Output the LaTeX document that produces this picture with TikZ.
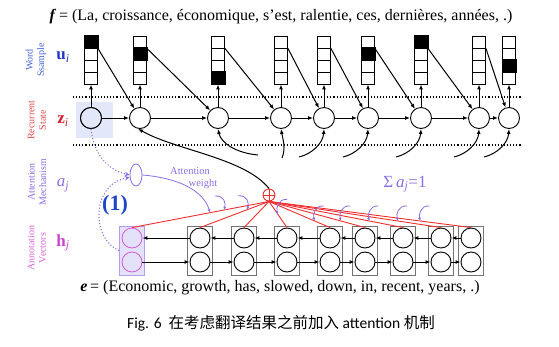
\documentclass[tikz,border=0pt]{standalone}
\usepackage{fontspec}
\setmainfont{Liberation Serif}
\newfontfamily\capfont{Carlito}
\newfontfamily\cjkfont{Noto Sans CJK SC}
\usetikzlibrary{arrows.meta,calc,shapes.geometric}
\definecolor{wordblue}{RGB}{70,100,215}
\definecolor{ublue}{RGB}{35,55,200}
\definecolor{recred}{RGB}{225,75,75}
\definecolor{zred}{RGB}{210,35,45}
\definecolor{attpurple}{RGB}{140,110,230}
\definecolor{annmag}{RGB}{215,100,215}
\definecolor{hmag}{RGB}{200,70,205}
\definecolor{oneblue}{RGB}{30,70,200}
\definecolor{redline}{RGB}{240,45,45}
\definecolor{hlblue}{RGB}{226,231,250}
\definecolor{annfill}{RGB}{228,226,250}
\definecolor{annedge}{RGB}{185,155,235}
\begin{document}
\begin{tikzpicture}[x=1pt,y=-1pt,
  rnn/.style={circle,draw,line width=0.9pt,minimum size=21pt,inner sep=0pt,fill=white},
  cellbox/.style={draw,line width=0.9pt,minimum width=13pt,minimum height=12pt,inner sep=0pt,fill=white},
  ann/.style={circle,draw,line width=0.9pt,minimum size=20pt,inner sep=0pt},
  annbox/.style={draw=black!55,line width=0.7pt,minimum width=25pt,minimum height=49pt,inner sep=0pt},
  arr/.style={-{Latex[length=5pt,width=4pt]},line width=1pt},
  hook/.style={attpurple,line width=0.8pt,-{Latex[length=3.5pt,width=3pt]}},
  pdot/.style={attpurple,dotted,line width=1.1pt,-{Stealth[length=5pt,width=4.5pt]}},
  redl/.style={redline,line width=0.9pt},
  side/.style={rotate=90,align=center,font=\fontsize{10}{11.5}\selectfont},
  sym/.style={font=\fontsize{17}{19}\selectfont}
]
\useasboundingbox (0,0) rectangle (559,346);

% ---------------- texts
\node[font=\fontsize{16}{18}\selectfont] (title) at (281,17)
  {\textbf{\textit{f}}\,= (La, croissance, économique, s'est, ralentie, ces, dernières, années, .)};
\node[font=\fontsize{16}{18}\selectfont] (etext) at (280,288)
  {\textbf{\textit{e}}\,= (Economic, growth, has, slowed, down, in, recent, years, .)};
\node[font=\capfont\fontsize{15.5}{18}\selectfont] (cap) at (281,323)
  {Fig. 6\ \ {\cjkfont 在考虑翻译结果之前加入} attention {\cjkfont 机制}};

\node[side,text=wordblue] (lw) at (36,60) {Word\\Ssample};
\node[sym,text=ublue] (lu) at (63,57) {\textbf{u}\textsubscript{\textit{i}}};
\node[side,text=recred] (lr) at (37,120) {Recurrent\\State};
\node[sym,text=zred] (lz) at (63,121) {\textbf{z}\textsubscript{\textit{i}}};
\node[side,text=attpurple] (lm) at (37,182) {Attention\\Mechanism};
\node[sym,text=attpurple] (la) at (63,185) {\textit{a}\textsubscript{\textit{j}}};
\node[side,text=annmag] (lv) at (37,248) {Annotation\\Vectors};
\node[sym,text=hmag] (lh) at (63,243) {\textbf{h}\textsubscript{\textit{j}}};
\node[text=oneblue,font=\bfseries\fontsize{22}{24}\selectfont] (one) at (115,205) {(1)};
\node[text=attpurple,font=\fontsize{10.5}{12}\selectfont] (aw1) at (190,171) {Attention};
\node[text=attpurple,font=\fontsize{10.5}{12}\selectfont] (aw2) at (203,184) {weight};
\node[sym,text=attpurple] (sum) at (405,184) {Σ\,\textit{a}\textsubscript{\textit{j}}=1};

% ---------------- dotted separators
\draw[dotted,line width=1.1pt] (73,97) -- (522,97);
\draw[dotted,line width=1.1pt] (73,145) -- (522,145);

% ---------------- recurrent highlight
\fill[hlblue] (76,102) rectangle (113,138);

% ---------------- word samples and recurrent states
\foreach \i/\x in {1/91,2/140,3/218,4/281,5/324,6/368,7/421,8/479,9/509}{
  \foreach \k in {1,...,4}{
    \node[cellbox] (b\i-\k) at (\x,{30+12*\k}) {};
  }
  \node[rnn] (z\i) at (\x,118) {};
}
\fill[hlblue] (z1.center) circle (10pt);
\draw[line width=0.9pt] (z1.center) circle (10.5pt);
\foreach \i/\k in {1/1,2/2,3/4,6/2,7/1,9/3}{
  \path[fill=black,draw,line width=0.9pt] (b\i-\k.north west) rectangle (b\i-\k.south east);
}
\foreach \i in {1,...,9}{ \draw[arr] (z\i) -- (b\i-4); }
\foreach \i/\j in {1/2,2/3,3/4,4/5,5/6,6/7,7/8,8/9}{
  \draw[arr] (z\i) -- (z\j);
  \draw[arr] (b\i-1.south east) -- (z\j);
}

% ---------------- curves into the recurrent states
\coordinate (c3) at (258,155);
\draw[arr] (c3) .. controls (236,153) and (221,143) .. (z3.south);
\coordinate (c4) at (282,158);
\draw[arr] (c4) .. controls (286,148) and (283,140) .. (z4.south);
\foreach \i/\x in {5/324,6/368,7/421,8/479,9/509}{
  \coordinate (c\i) at ({\x-25},157);
  \draw[arr] (c\i) .. controls ({\x-12},154) and ({\x-1},143) .. (z\i.south);
}

% ---------------- annotation vectors
\node[annbox,fill=annfill,draw=annedge] (B1) at (132,250.5) {};
\node[ann,draw=annmag] (ht1) at (132,238) {};
\node[ann,draw=annmag] (hb1) at (132,262) {};
\foreach \j/\x in {2/200,3/244,4/287,5/330,6/365,7/403,8/441,9/471}{
  \node[annbox] (B\j) at (\x,250.5) {};
  \node[ann] (ht\j) at (\x,238) {};
  \node[ann] (hb\j) at (\x,262) {};
}
\foreach \i/\j in {1/2,2/3,3/4,4/5,5/6,6/7,7/8,8/9}{
  \draw[arr] (ht\j) -- (ht\i);
  \draw[arr] (hb\i) -- (hb\j);
}

% ---------------- combination node
\node[circle,draw=redline,line width=0.9pt,minimum size=12pt,inner sep=0pt] (plus) at (269,195) {};
\draw[redl] (plus.north) -- (plus.south) (plus.west) -- (plus.east);
\foreach \j in {1,...,9}{ \draw[redl] (plus.south) -- (ht\j.north); }
\draw[arr] (plus.north) .. controls (245,158) and (175,150) .. (z2.-100);

% ---------------- attention mechanism
\node[ellipse,draw=attpurple,line width=0.8pt,minimum width=12pt,minimum height=22pt,inner sep=0pt,fill=white] (att) at (136,175) {};
\draw[pdot] (z1.south) .. controls (94,155) and (108,170) .. (att.west);
\draw[pdot] (B1.west) .. controls (92,240) and (90,185) .. (att.200);

\coordinate (kA) at ($(plus.south)!0.43!(ht1.north)$);
\coordinate (kB) at ($(plus.south)!0.33!(ht1.north)$);
\coordinate (kC) at ($(plus.south)!0.32!(ht2.north)$);
\coordinate (k4) at ($(plus.south)!0.5!(ht4.north)$);
\foreach \j in {5,...,9}{ \coordinate (k\j) at ($(plus.south)!0.75!(ht\j.north)$); }

\draw[hook] (att.east) .. controls (178,178) and (203,190) .. (kA);
\foreach \k in {kB,kC}{
  \draw[hook] ($(\k)+(-9,-14)$) .. controls ($(\k)+(1,-15)$) and ($(\k)+(2,-6)$) .. (\k);
}
\foreach \k in {k4,k5,k6,k7,k8,k9}{
  \draw[hook] ($(\k)+(9,-15)$) .. controls ($(\k)+(0,-16)$) and ($(\k)+(-2,-6)$) .. (\k);
}
\end{tikzpicture}
\end{document}
